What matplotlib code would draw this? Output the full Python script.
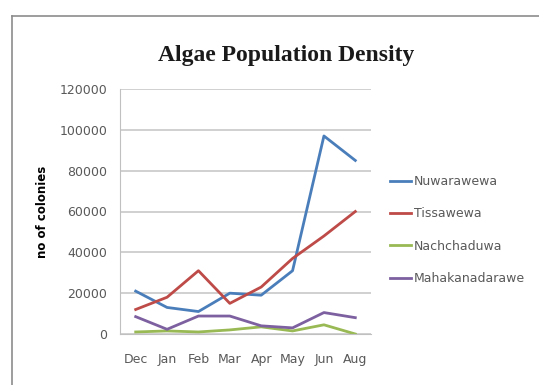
import matplotlib
matplotlib.use("Agg")
import matplotlib.pyplot as plt
from matplotlib.lines import Line2D

months = ["Dec", "Jan", "Feb", "Mar", "Apr", "May", "Jun", "Aug"]
nuwarawewa = [21000, 13000, 11000, 20000, 19000, 31000, 97000, 85000]
tissawewa = [12000, 18000, 31000, 15000, 23000, 37000, 48000, 60000]
nachchaduwa = [1000, 1500, 1000, 2000, 3500, 1500, 4500, 0]
mahakanadarawe = [8500, 2300, 8800, 8800, 4000, 3000, 10500, 8000]

series = [
    ("Nuwarawewa", nuwarawewa, "#4A7EBB"),
    ("Tissawewa", tissawewa, "#BE4B48"),
    ("Nachchaduwa", nachchaduwa, "#98B954"),
    ("Mahakanadarawe", mahakanadarawe, "#7D60A0"),
]

W, H = 539, 385
fig = plt.figure(figsize=(W / 100, H / 100), dpi=100)
fig.patch.set_facecolor("white")

# chart frame: only top and left edges are inside the screenshot
fx, fy = 12 / W, 1 - 16 / H
fig.add_artist(Line2D([fx, 1.0], [fy, fy], transform=fig.transFigure,
                      color="#8c8c8c", lw=1.2))
fig.add_artist(Line2D([fx, fx], [0.0, fy], transform=fig.transFigure,
                      color="#8c8c8c", lw=1.2))

ax = fig.add_axes([120 / W, 1 - 334 / H, 251 / W, 245 / H])
x = list(range(len(months)))
for name, vals, col in series:
    ax.plot(x, vals, color=col, lw=2, label=name)

ax.set_xlim(-0.5, len(months) - 0.5)
ax.set_ylim(0, 120000)
ax.set_yticks(range(0, 120001, 20000))
ax.set_xticks(x)
ax.set_xticklabels(months)
ax.yaxis.grid(True, color="#c8c8c8", lw=1.2)
ax.set_axisbelow(True)
for s in ["top", "right"]:
    ax.spines[s].set_visible(False)
ax.spines["left"].set_color("#c0c0c0")
ax.spines["bottom"].set_color("#c0c0c0")
ax.tick_params(axis="both", length=0, labelsize=9, colors="#595959")
ax.tick_params(axis="x", pad=14)
ax.tick_params(axis="y", pad=9)
ax.set_ylabel("no of colonies", fontsize=8.5, fontweight="bold", labelpad=8)

fig.text(286 / W, 1 - 55 / H, "Algae Population Density", ha="center", va="center",
         fontsize=17, fontweight="bold", family="Liberation Serif", color="#1a1a1a")

leg = ax.legend(loc="center left", bbox_to_anchor=(390 / W, 1 - 230 / H),
                bbox_transform=fig.transFigure, frameon=False, fontsize=9,
                handlelength=1.7, handletextpad=0.2, labelspacing=1.55,
                borderaxespad=0, borderpad=0)
for t in leg.get_texts():
    t.set_color("#595959")

fig.savefig("out.png", dpi=100)
